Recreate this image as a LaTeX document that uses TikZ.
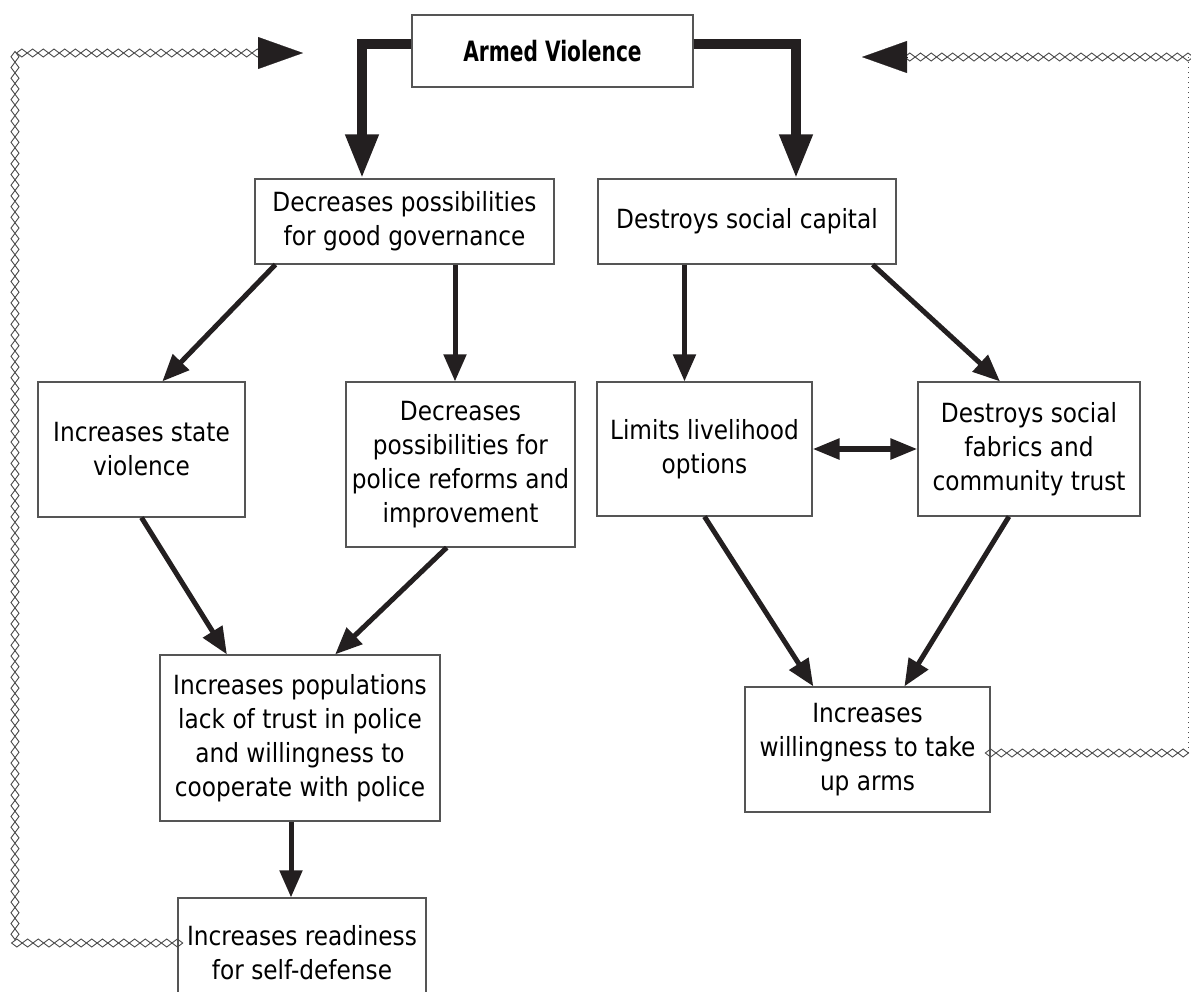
\documentclass[tikz,border=0pt]{standalone}
\usepackage{fontspec}
\setmainfont{DejaVu Sans}[FakeStretch=0.88, BoldFeatures={FakeStretch=0.72}]
\usetikzlibrary{arrows.meta, decorations.markings, calc}
\definecolor{boxGray}{HTML}{555555}
\definecolor{arrowInk}{HTML}{231F20}
\definecolor{chainGray}{HTML}{4A4A4A}

\begin{document}
\begin{tikzpicture}[x=0.5pt, y=-0.5pt,
  box/.style={draw=boxGray, line width=0.6pt, align=center, inner sep=2pt,
              font=\fontsize{13.2}{17}\selectfont},
  bigarrow/.style={draw=arrowInk, line width=5pt, line join=miter,
                   -{Triangle[length=22pt, width=15.5pt]}},
  flow/.style={draw=arrowInk, line width=2.5pt,
               -{Triangle[length=13.5pt, width=11pt]}},
  twoway/.style={draw=arrowInk, line width=2.8pt,
                 {Triangle[length=13.5pt, width=10pt]}-{Triangle[length=13.5pt, width=10pt]}},
  chain/.style={decoration={markings,
      mark=between positions 0 and 1 step 5.35pt with
        {\draw[chainGray, line width=0.45pt] (-2.67pt,0pt) -- (0pt,2pt) -- (2.67pt,0pt) -- (0pt,-2pt) -- cycle;}},
    postaction={decorate}},
  chaintip/.style={draw=arrowInk, fill=arrowInk, line width=0.1pt,
                   -{Triangle[length=22.5pt, width=16pt]}},
  thinline/.style={draw=chainGray, line width=0.5pt, dash pattern=on 0.4pt off 2.1pt},
]
  \useasboundingbox (0,0) rectangle (1191,992);

  % top
  \node[box, minimum width=140.5pt, minimum height=36pt, font=\fontsize{14}{17}\selectfont\bfseries]
    (av) at (552.5,51) {Armed Violence};

  % second row
  \node[box, minimum width=149.5pt, minimum height=42.5pt] (gov) at (404.5,221.5)
    {Decreases possibilities\\for good governance};
  \node[box, minimum width=149pt, minimum height=42.5pt] (soc) at (747,221.5)
    {Destroys social capital};

  % third row
  \node[box, minimum width=103.5pt, minimum height=67.5pt] (state) at (141.5,449.5)
    {Increases state\\violence};
  \node[box, minimum width=114.5pt, minimum height=82.5pt] (police) at (460.5,464.5)
    {Decreases\\possibilities for\\police reforms and\\improvement};
  \node[box, minimum width=107.5pt, minimum height=67pt] (live) at (704.5,449)
    {Limits livelihood\\options};
  \node[box, minimum width=111pt, minimum height=67pt] (fabric) at (1029,449)
    {Destroys social\\fabrics and\\community trust};

  % lower
  \node[box, minimum width=140pt, minimum height=83pt] (trust) at (300,738)
    {Increases populations\\lack of trust in police\\and willingness to\\cooperate with police};
  \node[box, minimum width=124pt, minimum height=55pt] (ready) at (302,953)
    {Increases readiness\\for self-defense};
  \node[box, minimum width=122.5pt, minimum height=62.5pt] (arms) at (867.5,749.5)
    {Increases\\willingness to take\\up arms};

  % main arrows
  \draw[bigarrow] ([yshift=3.5pt]av.west) -| ([xshift=-21.25pt]gov.north);
  \draw[bigarrow] ([yshift=3.5pt]av.east) -| ([xshift=24.5pt]soc.north);

  \draw[flow] ($(gov.south west)!0.07!(gov.south east)$) -- ($(state.north west)!0.6!(state.north east)$);
  \draw[flow] ([xshift=-2.75pt]police.north |- gov.south) -- ([xshift=-2.75pt]police.north);
  \draw[flow] ([xshift=-10pt]live.north |- soc.south) -- ([xshift=-10pt]live.north);
  \draw[flow] ($(soc.south west)!0.92!(soc.south east)$) -- ($(fabric.north west)!0.37!(fabric.north east)$);

  \draw[flow] (state.south) -- ($(trust.north west)!0.24!(trust.north east)$);
  \draw[flow] ($(police.south west)!0.44!(police.south east)$) -- ($(trust.north west)!0.625!(trust.north east)$);
  \draw[flow] ([xshift=-4.5pt]trust.south) -- ([xshift=-4.5pt]trust.south |- ready.north);

  \draw[flow] (live.south) -- ($(arms.north west)!0.28!(arms.north east)$);
  \draw[flow] ($(fabric.south west)!0.41!(fabric.south east)$) -- ($(arms.north west)!0.65!(arms.north east)$);
  \draw[twoway] (live.east) -- (fabric.west);

  % feedback loops
  \coordinate (fbLcorner) at (15,53);
  \coordinate (fbLend) at (270,53);
  \coordinate (fbLbase) at (258,53);
  \coordinate (fbLtip) at (303,53);
  \path[chain] ([yshift=5pt]ready.west) -| (fbLcorner) -- (fbLend);
  \draw[chaintip] (fbLbase) -- (fbLtip);

  \coordinate (fbRcorner) at (1188,753);
  \coordinate (fbRtop) at (1188,57);
  \coordinate (fbRend) at (900,57);
  \coordinate (fbRbase) at (907,57);
  \coordinate (fbRtip) at (862,57);
  \path[chain] (arms.east |- fbRcorner) -- (fbRcorner);
  \draw[thinline] (fbRcorner) -- (fbRtop);
  \path[chain] (fbRtop) -- (fbRend);
  \draw[chaintip] (fbRbase) -- (fbRtip);
\end{tikzpicture}
\end{document}
